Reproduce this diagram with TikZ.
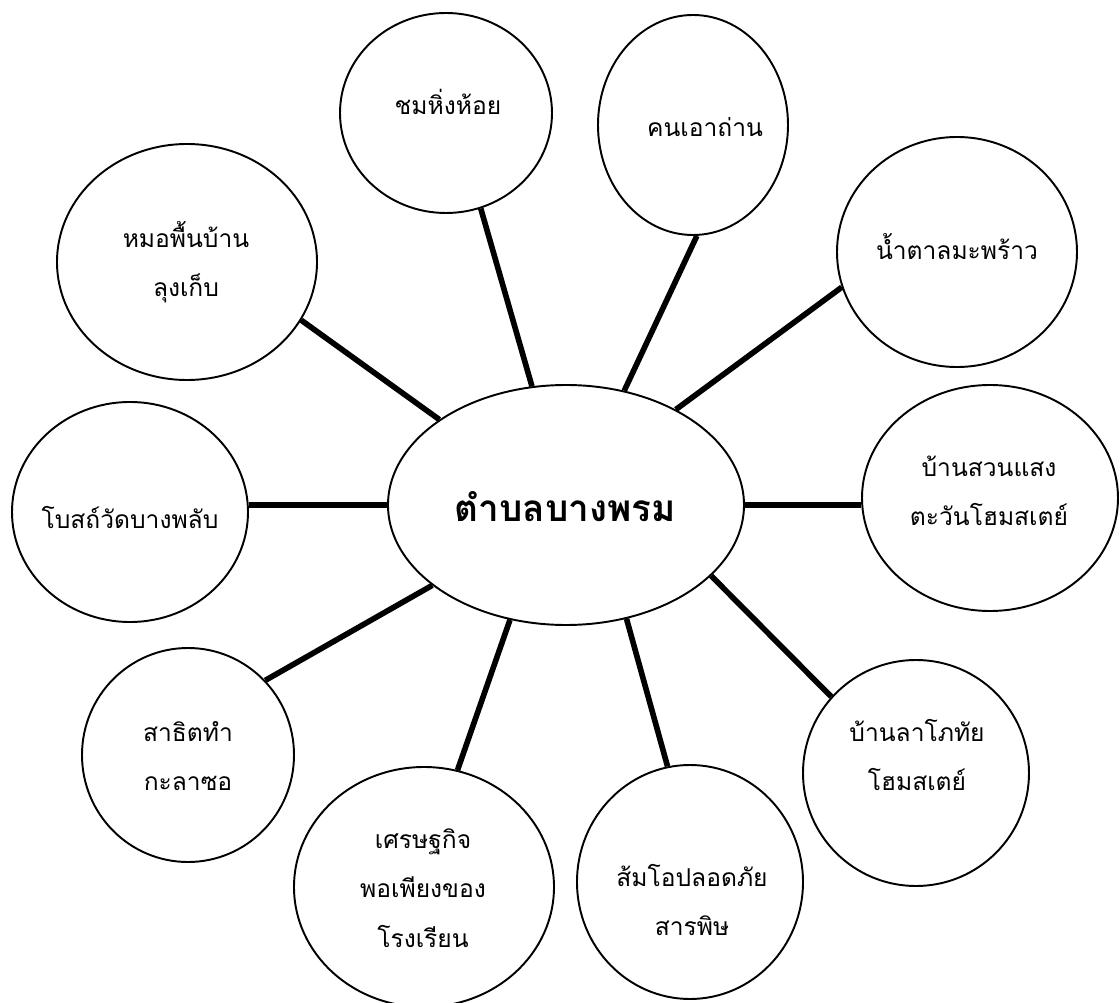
\documentclass[tikz,border=0pt]{standalone}
\usepackage{fontspec}
\newfontfamily\thaifont[Script=Thai]{Loma}
\usetikzlibrary{shapes.geometric}

\tikzset{bubble/.style 2 args={draw, ellipse, inner sep=0pt, line width=1.1pt,
    minimum width=2*#1*0.02cm, minimum height=2*#2*0.02cm}}

\begin{document}
\begin{tikzpicture}[x=0.02cm, y=-0.02cm, semithick]
\tikzstyle{every node}=[font=\thaifont\fontsize{14}{28}\selectfont]
\tikzstyle{txt}=[align=center, inner sep=0pt]
\tikzstyle{every edge}=[draw, line width=3.2pt]

\useasboundingbox (0,0) rectangle (1120,1003);

% hub and the places round it
\node[bubble={178}{120}] (hub) at (566,505) {};
\node[bubble={130}{118}] (mor) at (187,262) {};
\node[bubble={106}{100}] (chom) at (446,113) {};
\node[bubble={95}{110}] (khon) at (693,125) {};
\node[bubble={120}{115}] (nam) at (957,252) {};
\node[bubble={118}{110}] (bot) at (130,512) {};
\node[bubble={128}{113}] (suan) at (990,498) {};
\node[bubble={113}{113}] (lapo) at (916,773) {};
\node[bubble={113}{117}] (som) at (690,882) {};
\node[bubble={130}{120}] (set) at (424,887) {};
\node[bubble={106}{107}] (sathit) at (188,755) {};

% texts
\node[txt, font=\thaifont\bfseries\fontsize{21}{26}\selectfont] (hub-t) at (565,507) {ตำบลบางพรม};
\node[txt] (mor-t) at (186,262) {หมอพื้นบ้าน\\ลุงเก็บ};
\node[txt] (chom-t) at (448,102) {ชมหิ่งห้อย};
\node[txt] (khon-t) at (705,127) {คนเอาถ่าน};
\node[txt] (nam-t) at (957,247) {น้ำตาลมะพร้าว};
\node[txt] (bot-t) at (130,517) {โบสถ์วัดบางพลับ};
\node[txt] (suan-t) at (989,491) {บ้านสวนแสง\\ตะวันโฮมสเตย์};
\node[txt] (lapo-t) at (917,755) {บ้านลาโภทัย\\โฮมสเตย์};
\node[txt] (som-t) at (692,900) {ส้มโอปลอดภัย\\สารพิษ};
\node[txt] (set-t) at (423,888) {เศรษฐกิจ\\พอเพียงของ\\โรงเรียน};
\node[txt] (sathit-t) at (188,756) {สาธิตทำ\\กะลาซอ};

\path   (hub.146)   edge (mor.-27)
        (hub.106)   edge (chom.-70)
        (hub.63)    edge (khon.-88)
        (hub.41)    edge (nam.197)
        (hub.0)     edge (hub.0 -| suan.west)
        (hub.180)   edge (hub.180 -| bot.east)
        (hub.-26)   edge (lapo.138)
        (hub.-62)   edge (som.101)
        (hub.-116)  edge (set.74)
        (hub.-149)  edge (sathit.44);

\end{tikzpicture}
\end{document}
